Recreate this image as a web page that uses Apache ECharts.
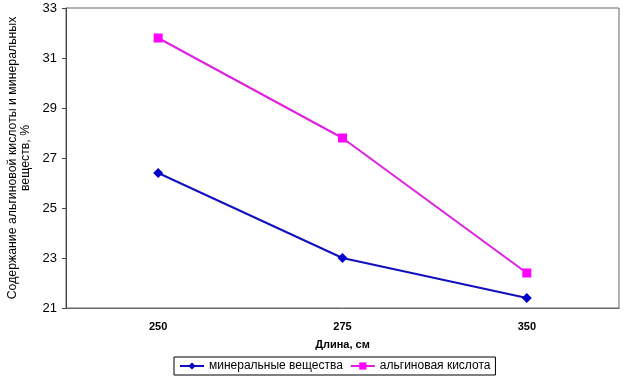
<!DOCTYPE html>
<html>
<head>
<meta charset="utf-8">
<script src="https://cdn.jsdelivr.net/npm/echarts@6/dist/echarts.min.js"></script>
<style>html,body{margin:0;padding:0;background:#fff}#c{width:640px;height:382px}</style>
</head>
<body>
<div id="c"></div>
<script>
var categories = ['250', '275', '350'];
var mineral = [26.4, 23.0, 21.4];
var alginic = [31.8, 27.8, 22.4];
var yTicks = [21, 23, 25, 27, 29, 31, 33];

var chart = echarts.init(document.getElementById('c'));
var F = 'Liberation Sans, Arial, sans-serif';
chart.setOption({
  animation: false,
  backgroundColor: '#fff',
  grid: { left: 66, right: 21, top: 8, bottom: 74, show: true, borderColor: '#666', borderWidth: 1, outerBoundsMode: 'none', containLabel: false },
  legend: {
    bottom: 7, left: 174,
    borderColor: '#000', borderWidth: 1, padding: [3, 5, 3, 5],
    itemWidth: 24, itemHeight: 9, itemGap: 7,
    textStyle: { fontFamily: F, fontSize: 12, color: '#000' },
    data: ['минеральные вещества', 'альгиновая кислота']
  },
  xAxis: {
    type: 'category', data: categories, boundaryGap: true,
    name: 'Длина, см', nameLocation: 'middle', nameGap: 31,
    nameTextStyle: { fontFamily: F, fontSize: 11, fontWeight: 'bold', color: '#000' },
    axisLine: { lineStyle: { color: '#666' } },
    axisTick: { show: false },
    axisLabel: { fontFamily: F, fontSize: 11, fontWeight: 'bold', color: '#000', margin: 13 }
  },
  yAxis: {
    type: 'value', min: yTicks[0], max: yTicks[yTicks.length - 1], interval: 2,
    name: 'Содержание альгиновой кислоты и минеральных\nвеществ, %',
    nameLocation: 'middle', nameRotate: 90, nameGap: 29,
    nameTextStyle: { fontFamily: F, fontSize: 12.3, color: '#000', lineHeight: 13, align: 'center' },
    axisLine: { show: true, lineStyle: { color: '#444' } },
    axisTick: { show: true, length: 4, lineStyle: { color: '#444' } },
    splitLine: { show: false },
    axisLabel: { fontFamily: F, fontSize: 13, color: '#000', margin: 9 }
  },
  series: [
    {
      name: 'минеральные вещества', type: 'line', data: mineral,
      symbol: 'diamond', symbolSize: 10,
      lineStyle: { color: '#1010C0', width: 2 },
      itemStyle: { color: '#0000CC' }
    },
    {
      name: 'альгиновая кислота', type: 'line', data: alginic,
      symbol: 'rect', symbolSize: 9,
      lineStyle: { color: '#E020E0', width: 2 },
      itemStyle: { color: '#FF00FF' }
    }
  ]
});
</script>
</body>
</html>
